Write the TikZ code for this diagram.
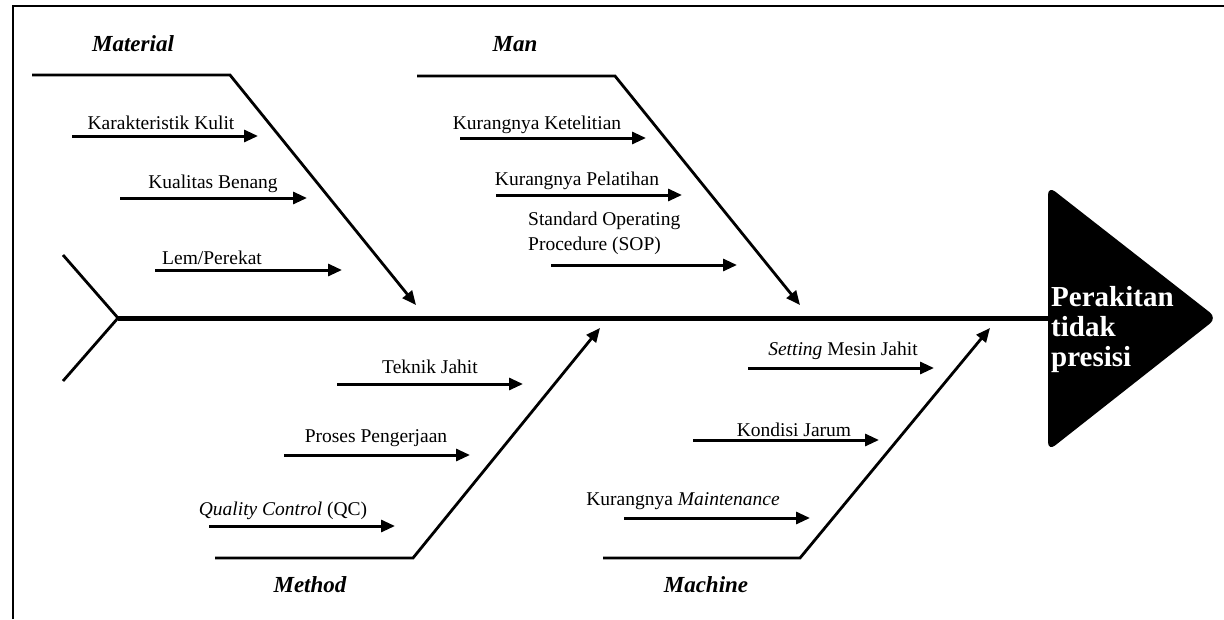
\documentclass[tikz,border=0pt]{standalone}
\usepackage{fontspec}
\setmainfont{Liberation Serif}
\usepackage{tikz}
\usetikzlibrary{arrows.meta,positioning,calc}
\tikzset{lbl/.style={inner sep=0pt,font=\fontsize{19.5}{22}\selectfont},
 cat/.style={inner sep=0pt,font=\fontsize{23}{25}\selectfont\bfseries\itshape},
 bone/.style={line width=2.8pt},
 arrow/.style={-{Triangle[length=14pt,width=12pt]},line width=3pt},
 bonearrow/.style={bone,-{Triangle[length=14pt,width=12pt]}}}

\begin{document}
\begin{tikzpicture}[x=1pt,y=-1pt]
\useasboundingbox (0,0) rectangle (1224,619);
% frame
\draw[line width=2.8pt] (13,619) -- (13,6) -- (1224,6);

% spine and head
\coordinate (t1) at (63,255);
\coordinate (t0) at (118,318);
\coordinate (t2) at (63,381);
\coordinate (h0) at (1050,318);
\draw[bone] (t1) -- (t0) -- (t2);
\draw[line width=5pt] (t0) -- (h0);
\fill[rounded corners=9pt] (1048,186) -- (1217,318) -- (1048,451) -- cycle;
\node[anchor=west,align=left,text=white,inner sep=0pt,
 font=\fontsize{29}{30}\selectfont\bfseries] (eff) at (1051,330) {Perakitan\\tidak\\presisi};

% Material
\coordinate (ma0) at (32,75);
\coordinate (ma1) at (230,75);
\coordinate (ma2) at (416,305);
\draw[bonearrow] (ma0) -- (ma1) -- (ma2);
\node[cat] (mat) at (133,44) {Material};
\coordinate (k1a) at (72,136); \coordinate (k1b) at (258,136);
\coordinate (k2a) at (120,198); \coordinate (k2b) at (307,198);
\coordinate (k3a) at (155,270); \coordinate (k3b) at (342,270);
\draw[arrow] (k1a) -- (k1b);
\draw[arrow] (k2a) -- (k2b);
\draw[arrow] (k3a) -- (k3b);
\node[lbl] (k1) at (161,123) {Karakteristik Kulit};
\node[lbl] (k2) at (213,184) {Kualitas Benang};
\node[lbl] (k3) at (212,258) {Lem/Perekat};

% Man
\coordinate (mn0) at (417,76);
\coordinate (mn1) at (615,76);
\coordinate (mn2) at (800,305);
\draw[bonearrow] (mn0) -- (mn1) -- (mn2);
\node[cat] (man) at (515,44) {Man};
\coordinate (p1a) at (460,138); \coordinate (p1b) at (646,138);
\coordinate (p2a) at (496,195); \coordinate (p2b) at (682,195);
\coordinate (p3a) at (551,265); \coordinate (p3b) at (737,265);
\draw[arrow] (p1a) -- (p1b);
\draw[arrow] (p2a) -- (p2b);
\draw[arrow] (p3a) -- (p3b);
\node[lbl] (p1) at (537,125) {Kurangnya Ketelitian};
\node[lbl] (p2) at (577,181) {Kurangnya Pelatihan};
\node[lbl,align=left,anchor=west,font=\fontsize{19.5}{25}\selectfont] (p3) at (528,233) {Standard Operating\\Procedure (SOP)};

% Method
\coordinate (me0) at (215,558);
\coordinate (me1) at (413,558);
\coordinate (me2) at (600,328);
\draw[bonearrow] (me0) -- (me1) -- (me2);
\node[cat] (met) at (310,585) {Method};
\coordinate (m1a) at (337,384); \coordinate (m1b) at (523,384);
\coordinate (m2a) at (284,455); \coordinate (m2b) at (470,455);
\coordinate (m3a) at (209,526); \coordinate (m3b) at (395,526);
\draw[arrow] (m1a) -- (m1b);
\draw[arrow] (m2a) -- (m2b);
\draw[arrow] (m3a) -- (m3b);
\node[lbl] (m1) at (430,367) {Teknik Jahit};
\node[lbl] (m2) at (376,438) {Proses Pengerjaan};
\node[lbl] (m3) at (283,511) {\textit{Quality Control} (QC)};

% Machine
\coordinate (mc0) at (603,558);
\coordinate (mc1) at (800,558);
\coordinate (mc2) at (990,328);
\draw[bonearrow] (mc0) -- (mc1) -- (mc2);
\node[cat] (mac) at (706,585) {Machine};
\coordinate (c1a) at (748,368); \coordinate (c1b) at (934,368);
\coordinate (c2a) at (693,440); \coordinate (c2b) at (879,440);
\coordinate (c3a) at (624,518); \coordinate (c3b) at (810,518);
\draw[arrow] (c1a) -- (c1b);
\draw[arrow] (c2a) -- (c2b);
\draw[arrow] (c3a) -- (c3b);
\node[lbl] (c1) at (843,351) {\textit{Setting} Mesin Jahit};
\node[lbl] (c2) at (794,430) {Kondisi Jarum};
\node[lbl] (c3) at (683,501) {Kurangnya \textit{Maintenance}};
\end{tikzpicture}
\end{document}
